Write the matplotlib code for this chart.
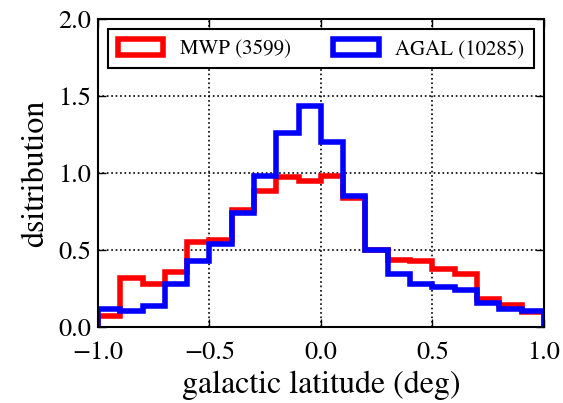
import numpy as np
import matplotlib
matplotlib.use("Agg")
import matplotlib.pyplot as plt

# bin edges in galactic latitude (deg), 0.1 deg bins
edges = np.round(np.arange(-1.0, 1.0001, 0.1), 2)
centers = 0.5 * (edges[:-1] + edges[1:])

# normalised distributions
mwp = [0.07, 0.32, 0.28, 0.355, 0.55, 0.565, 0.76, 0.88, 0.975, 0.945,
       0.98, 0.835, 0.50, 0.435, 0.43, 0.375, 0.345, 0.18, 0.145, 0.095]
agal = [0.115, 0.105, 0.135, 0.28, 0.43, 0.535, 0.74, 0.98, 1.26, 1.435,
        1.20, 0.85, 0.50, 0.34, 0.275, 0.26, 0.24, 0.155, 0.115, 0.10]
labels = ["MWP (3599)", "AGAL (10285)"]
xticks = [-1.0, -0.5, 0.0, 0.5, 1.0]
yticks = [0.0, 0.5, 1.0, 1.5, 2.0]

plt.rcParams["font.family"] = "STIXGeneral"
plt.rcParams["mathtext.fontset"] = "stix"

fig = plt.figure(figsize=(5.63, 4.03), dpi=100)
ax = fig.add_axes([0.174, 0.189, 0.792, 0.764])

ax.hist(centers, bins=edges, weights=mwp, histtype="step", color="red", lw=4, label=labels[0])
ax.hist(centers, bins=edges, weights=agal, histtype="step", color="blue", lw=4, label=labels[1])

ax.set_xlim(-1, 1)
ax.set_ylim(0, 2)
ax.set_xticks(xticks)
ax.set_yticks(yticks)
ax.set_xticklabels([f"{v:.1f}".replace("-", "\u2212") for v in xticks])
ax.set_yticklabels([f"{v:.1f}" for v in yticks])
ax.tick_params(direction="in", top=True, right=True, length=6, width=1, labelsize=19)
ax.tick_params(axis="x", pad=10)
ax.tick_params(axis="y", pad=5)
ax.grid(True, color="k", ls=":", lw=1.2)
for s in ax.spines.values():
    s.set_linewidth(1.5)

ax.set_xlabel("galactic latitude (deg)", fontsize=23, labelpad=4)
ax.set_ylabel("dsitribution", fontsize=23, labelpad=6)

leg = ax.legend(loc="upper center", ncol=2, fontsize=15, fancybox=False, framealpha=1,
                edgecolor="k", handlelength=2.2, handleheight=0.8, columnspacing=2.0,
                borderaxespad=0.5, borderpad=0.45)
leg.get_frame().set_linewidth(1.5)

fig.savefig("out.png", dpi=100)
